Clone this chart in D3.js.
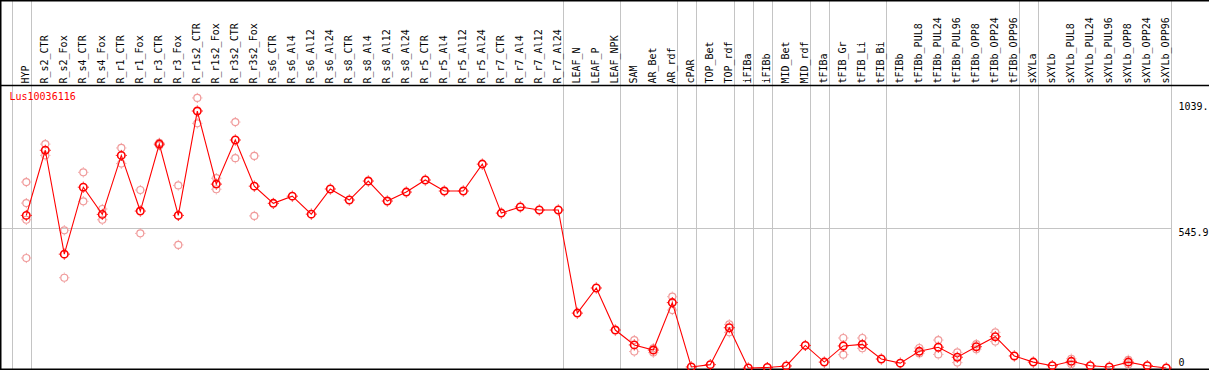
<!DOCTYPE html>
<html>
<head>
<meta charset="utf-8">
<script src="https://cdn.jsdelivr.net/npm/d3@7"></script>
<style>
  html, body { margin: 0; padding: 0; background: #fff; }
  svg { display: block; }
  text { font-family: "DejaVu Sans Mono", monospace; font-size: 10px; }
</style>
</head>
<body>
<svg id="chart"></svg>
<script>
const geneName = "Lus10036116";

const samples = [
  "HYP", "R_s2_CTR", "R_s2_Fox", "R_s4_CTR", "R_s4_Fox", "R_r1_CTR", "R_r1_Fox",
  "R_r3_CTR", "R_r3_Fox", "R_r1s2_CTR", "R_r1s2_Fox", "R_r3s2_CTR", "R_r3s2_Fox",
  "R_s6_CTR", "R_s6_Al4", "R_s6_Al12", "R_s6_Al24", "R_s8_CTR", "R_s8_Al4",
  "R_s8_Al12", "R_s8_Al24", "R_r5_CTR", "R_r5_Al4", "R_r5_Al12", "R_r5_Al24",
  "R_r7_CTR", "R_r7_Al4", "R_r7_Al12", "R_r7_Al24", "LEAF_N", "LEAF_P", "LEAF_NPK",
  "SAM", "AR_Bet", "AR_rdf", "cPAR", "TOP_Bet", "TOP_rdf", "iFIBa", "iFIBb",
  "MID_Bet", "MID_rdf", "tFIBa", "tFIB_Gr", "tFIB_Li", "tFIB_Bi", "tFIBb",
  "tFIBb_PUL8", "tFIBb_PUL24", "tFIBb_PUL96", "tFIBb_OPP8", "tFIBb_OPP24", "tFIBb_OPP96",
  "sXYLa", "sXYLb", "sXYLb_PUL8", "sXYLb_PUL24", "sXYLb_PUL96", "sXYLb_OPP8",
  "sXYLb_OPP24", "sXYLb_OPP96"
];

const means = [
  595, 849, 444, 705, 599, 829, 612, 873, 595, 1002, 717, 889, 709,
  642, 670, 600, 698, 655, 729, 651, 686, 733, 690, 690, 795,
  604, 628, 616, 616, 214, 312, 148,
  90, 70, 255, 4, 13, 157, 0, 2,
  8, 88, 23, 86, 92, 35, 19,
  65, 81, 42, 83, 122, 47,
  23, 9, 26, 9, 4, 23, 9, 0
];

// replicate values, empty where they sit under the mean marker
const replicates = [
  [725, 643, 578, 429], [873, 829], [537, 352], [763, 650], [620, 578], [858, 797],
  [694, 525], [868, 878], [712, 480], [1053, 954], [740, 697], [959, 818], [827, 593],
  [], [], [], [], [], [], [], [], [], [], [], [],
  [], [], [], [], [], [], [],
  [109, 64], [77, 60], [278, 226], [], [], [170, 139], [], [],
  [], [], [], [117, 52], [117, 77], [], [],
  [78, 57], [109, 53], [61, 21], [73, 93], [139, 103], [],
  [], [], [36, 16], [], [], [32, 14], [], []
];

// index of the last sample in each group (-1 = line before the first one)
const groupEnds = [-1, 0, 28, 31, 34, 35, 37, 38, 39, 41, 42, 45, 52, 53, 60];

const axisTicks = [0, 545.9, 1039];
const axisLabels = ["0", "545.9", "1039."];

const width = 1209;
const height = 370;
const headerBottom = 85.5;

const svg = d3.select("#chart").attr("width", width).attr("height", height);

const x = d3.scalePoint().domain(d3.range(samples.length)).range([26.3, 1166.3]);
const step = x.step();
const y = d3.scaleLinear().domain([0, 545.9]).range([368, 228]);

const grid = svg.append("g").attr("stroke", "#c4c4c4").attr("stroke-width", 1);

grid.selectAll("line.v")
  .data(groupEnds)
  .enter()
  .append("line")
  .attr("class", "v")
  .attr("x1", i => Math.round(x(0) + i * step + 4.5) + 0.5)
  .attr("x2", i => Math.round(x(0) + i * step + 4.5) + 0.5)
  .attr("y1", 0)
  .attr("y2", height);

grid.append("line")
  .attr("x1", 0)
  .attr("x2", Math.round(x(samples.length - 1) + 4.5) + 0.5)
  .attr("y1", Math.round(y(545.9)) + 0.5)
  .attr("y2", Math.round(y(545.9)) + 0.5);

// frame
const frame = svg.append("g").attr("stroke", "#000").attr("stroke-width", 1.5);
frame.append("line").attr("x1", 0).attr("x2", width).attr("y1", 0.75).attr("y2", 0.75);
frame.append("line").attr("x1", 0).attr("x2", width).attr("y1", headerBottom).attr("y2", headerBottom);
frame.append("line").attr("x1", 0.75).attr("x2", 0.75).attr("y1", 0).attr("y2", height);
frame.append("line").attr("x1", 0).attr("x2", width).attr("y1", 369.25).attr("y2", 369.25);

// sample labels in the header
svg.append("g")
  .selectAll("text")
  .data(samples)
  .enter()
  .append("text")
  .attr("transform", (d, i) => `translate(${x(i) + 3},83.5) rotate(-90)`)
  .attr("fill", "#000")
  .text(d => d);

svg.append("text")
  .attr("x", 9.5)
  .attr("y", 100)
  .attr("fill", "#ff0000")
  .text(geneName);

// value labels on the right
svg.append("g")
  .selectAll("text")
  .data(axisTicks)
  .enter()
  .append("text")
  .attr("x", 1178.5)
  .attr("y", d => (d === 0 ? y(d) - 2.5 : y(d) + 8))
  .attr("fill", "#000")
  .text((d, i) => axisLabels[i]);

function marker(sel, r, w) {
  sel.append("circle").attr("r", r).attr("fill", "none").attr("stroke-width", w);
  [[0, -1], [0, 1], [-1, 0], [1, 0]].forEach(([dx, dy]) => {
    sel.append("line")
      .attr("stroke-width", 1)
      .attr("x1", dx * (r + w / 2))
      .attr("y1", dy * (r + w / 2))
      .attr("x2", dx * (r + w / 2 + 1))
      .attr("y2", dy * (r + w / 2 + 1));
  });
}

const repPoints = replicates.flatMap((vals, i) => vals.map(v => ({ i, v })));

svg.append("g")
  .attr("stroke", "#f09a9a")
  .selectAll("g")
  .data(repPoints)
  .enter()
  .append("g")
  .attr("transform", d => `translate(${x(d.i)},${y(d.v)})`)
  .each(function () { marker(d3.select(this), 3.5, 1.2); });

const line = d3.line()
  .x((d, i) => x(i))
  .y(d => y(d));

svg.append("path")
  .datum(means)
  .attr("fill", "none")
  .attr("stroke", "#ff0000")
  .attr("stroke-width", 1.1)
  .attr("d", line);

svg.append("g")
  .attr("stroke", "#ff0000")
  .selectAll("g")
  .data(means)
  .enter()
  .append("g")
  .attr("transform", (d, i) => `translate(${x(i)},${y(d)})`)
  .each(function () { marker(d3.select(this), 3.7, 1.6); });
</script>
</body>
</html>
